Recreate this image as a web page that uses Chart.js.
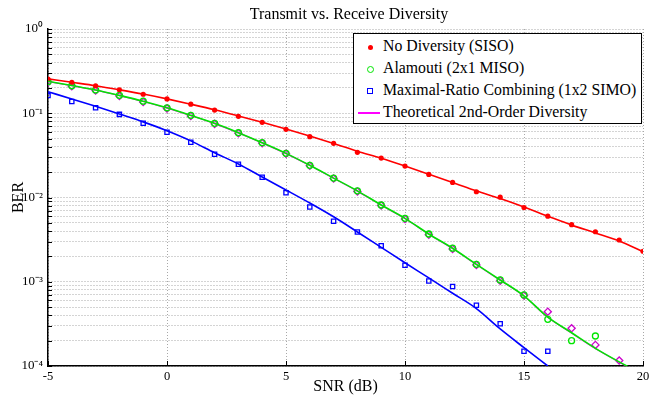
<!DOCTYPE html>
<html>
<head>
<meta charset="utf-8">
<script src="https://cdn.jsdelivr.net/npm/chart.js@4/dist/chart.umd.min.js"></script>
<style>
  body { margin: 0; background: #fff; }
  #wrap { position: relative; width: 665px; height: 396px; }
  #title {
    position: absolute; left: 149px; top: 5px; width: 400px; text-align: center;
    font-family: 'Liberation Serif', serif; font-size: 16px; line-height: 18px; color: #000;
  }
  #legend {
    position: absolute; left: 353px; top: 33px; width: 287px; height: 89px;
    border: 1.5px solid #000; background: #fff;
    font-family: 'Liberation Serif', serif; font-size: 15.8px; color: #000;
  }
  #legend .txt { position: absolute; left: 29px; line-height: 18px; white-space: nowrap; }
  #legend .mk { position: absolute; box-sizing: border-box; }
</style>
</head>
<body>
<div id="wrap">
  <canvas id="berChart" width="665" height="396"></canvas>
  <div id="title">Transmit vs. Receive Diversity</div>
  <div id="legend">
    <div class="mk" style="left:14px;top:11px;width:5px;height:5px;border-radius:50%;background:#ff0000"></div>
    <div class="txt" style="top:3px">No Diversity (SISO)</div>
    <div class="mk" style="left:13px;top:32px;width:7px;height:7px;border-radius:50%;border:1.2px solid #00e600"></div>
    <div class="txt" style="top:25px">Alamouti (2x1 MISO)</div>
    <div class="mk" style="left:13px;top:54px;width:6px;height:6px;border:1.2px solid #0000ff"></div>
    <div class="txt" style="top:47px">Maximal-Ratio Combining (1x2 SIMO)</div>
    <div class="mk" style="left:4px;top:78px;width:22px;height:1.5px;background:#ff00ff"></div>
    <div class="txt" style="top:69px">Theoretical 2nd-Order Diversity</div>
  </div>
</div>
<script>
// SNR axis (dB)
const snr = [-5, -4, -3, -2, -1, 0, 1, 2, 3, 4, 5, 6, 7, 8, 9, 10, 11, 12, 13, 14, 15, 16, 17, 18, 19, 20];

// simulated BER points
const berSISO = [0.255, 0.233, 0.212, 0.19, 0.168, 0.148, 0.128, 0.109, 0.092, 0.078, 0.0645, 0.0527, 0.044,
  0.0344, 0.0294, 0.0236, 0.0188, 0.0151, 0.0117, 0.0101, 0.0076, 0.006, 0.00476, 0.00392, 0.00313, 0.0023];
const berAlamouti = [0.237, 0.212, 0.189, 0.163, 0.139, 0.116, 0.0944, 0.0759, 0.0588, 0.0447, 0.0334, 0.0241, 0.017,
  0.012, 0.00815, 0.00566, 0.00369, 0.0025, 0.00161, 0.00105, 0.000697, 0.000358, 0.0002, 0.000227, null, null];
const berMRC = [0.162, 0.138, 0.116, 0.097, 0.0759, 0.0594, 0.0452, 0.0326, 0.0248, 0.0174, 0.0114, 0.0077, 0.00522,
  0.0039, 0.00268, 0.00157, 0.00102, 0.00088, 0.000525, 0.000318, 0.00015, 0.00015, null, null, null, null];
const berTheory = [0.233, 0.209, 0.186, 0.16, 0.136, 0.114, 0.093, 0.0748, 0.058, 0.0442, 0.033, 0.0238, 0.0168,
  0.0118, 0.00805, 0.00556, 0.00362, 0.00245, 0.00158, 0.00103, 0.000688, 0.000441, 0.00028, 0.000178, 0.000116, null];

// fitted curves
const fitSISO = [0.256, 0.233, 0.212, 0.19, 0.169, 0.148, 0.128, 0.11, 0.093, 0.078, 0.065, 0.0535, 0.0438,
  0.0354, 0.0292, 0.0236, 0.0189, 0.0151, 0.012, 0.0097, 0.0077, 0.006, 0.0047, 0.0038, 0.00305, 0.00228];
const fitAlamouti = [0.24, 0.213, 0.189, 0.163, 0.139, 0.116, 0.0944, 0.0759, 0.0588, 0.0447, 0.0334, 0.0241, 0.017,
  0.012, 0.00815, 0.00566, 0.00369, 0.0025, 0.00161, 0.00105, 0.00068, 0.00038, 0.000248, 0.000162, 0.000112, 0.000079];
const fitMRC = [0.18, 0.148, 0.121, 0.098, 0.079, 0.062, 0.047, 0.034, 0.025, 0.0175, 0.0123, 0.0086, 0.0059,
  0.0039, 0.00256, 0.00168, 0.00111, 0.00073, 0.00048, 0.000275, 0.000165, 0.0001, null, null, null, null];
const fitTheory = [0.238, 0.212, 0.188, 0.162, 0.138, 0.115, 0.0938, 0.0754, 0.0584, 0.0444, 0.0332, 0.024, 0.0169,
  0.0119, 0.0081, 0.00562, 0.00366, 0.00248, 0.0016, 0.00104, 0.000675, 0.000378, 0.000246, 0.000161, 0.000111, 0.000078];

// axis ticks
const xTicks = [-5, 0, 5, 10, 15, 20];
const decades = [1e-4, 1e-3, 1e-2, 1e-1, 1];
const supers = { '-': '\u207B', '0': '\u2070', '1': '\u00B9', '2': '\u00B2', '3': '\u00B3', '4': '\u2074' };

const pts = arr => snr.map((x, i) => ({ x: x, y: arr[i] })).filter(p => p.y !== null);

const serif = "'Liberation Serif', serif";

function curve(arr, color, w) {
  return { data: pts(arr), borderColor: color, borderWidth: w, pointRadius: 0,
    cubicInterpolationMode: 'monotone', fill: false };
}
function marks(arr, color, style, r, filled) {
  return { data: pts(arr), showLine: false, pointStyle: style, pointRadius: r,
    pointBorderColor: color, pointBackgroundColor: filled ? color : 'rgba(0,0,0,0)',
    pointBorderWidth: filled ? 0 : 1.3 };
}

// MATLAB-like inward tick marks
const inwardTicks = {
  id: 'inwardTicks',
  afterDatasetsDraw(chart) {
    const { ctx, chartArea: a, scales: { x, y } } = chart;
    ctx.save();
    ctx.strokeStyle = '#000';
    ctx.lineWidth = 1;
    ctx.beginPath();
    y.ticks.forEach(t => {
      const py = Math.round(y.getPixelForValue(t.value)) + 0.5;
      ctx.moveTo(a.left, py); ctx.lineTo(a.left + 4, py);
    });
    xTicks.forEach(v => {
      const px = Math.round(x.getPixelForValue(v)) + 0.5;
      ctx.moveTo(px, a.bottom); ctx.lineTo(px, a.bottom - 5);
    });
    ctx.stroke();
    ctx.restore();
  }
};

new Chart(document.getElementById('berChart'), {
  type: 'line',
  data: {
    datasets: [
      curve(fitAlamouti, '#00e600', 1.6),
      curve(fitMRC, '#0000ff', 1.6),
      curve(fitSISO, '#ff0000', 1.6),
      curve(fitTheory, '#ff00ff', 1.2),
      marks(berSISO, '#ff0000', 'circle', 2.6, true),
      marks(berAlamouti, '#00e600', 'circle', 3, false),
      marks(berMRC, '#0000ff', 'rect', 3, false),
      marks(berTheory, '#cc00cc', 'rectRot', 3.6, false)
    ]
  },
  options: {
    responsive: false,
    animation: false,
    layout: { padding: { left: 0, right: 22, top: 29, bottom: 0 } },
    plugins: {
      legend: { display: false },
      tooltip: { enabled: false },
      title: { display: false }
    },
    scales: {
      x: {
        type: 'linear',
        min: -5, max: 20,
        afterFit: s => { s.height = 30; },
        afterBuildTicks: s => { s.ticks = xTicks.map(v => ({ value: v })); },
        ticks: { color: '#000', padding: 3, font: { family: serif, size: 12.5 } },
        grid: { color: '#a8a8a8', drawTicks: false },
        border: { display: true, color: '#000', width: 1.5, dash: [1, 2] },
        title: { display: true, text: 'SNR (dB)', color: '#000', padding: 0,
          font: { family: serif, size: 16 } }
      },
      y: {
        type: 'logarithmic',
        min: 1e-4, max: 1,
        afterFit: s => { s.width = 48; },
        afterBuildTicks: s => {
          const t = [];
          decades.forEach(d => {
            for (let k = 1; k <= 9; k++) {
              if (d * k <= 1.0000001) t.push({ value: d * k });
              if (d === 1) break;
            }
          });
          s.ticks = t;
        },
        ticks: {
          color: '#000', padding: 5, autoSkip: false,
          font: { family: serif, size: 13 },
          callback: v => {
            const e = Math.log10(v);
            if (Math.abs(e - Math.round(e)) > 1e-6) return '';
            return '10' + String(Math.round(e)).split('').map(c => supers[c]).join('');
          }
        },
        grid: { color: '#a8a8a8', drawTicks: false },
        border: { display: true, color: '#000', width: 1.5, dash: [1, 2] },
        title: { display: true, text: 'BER', color: '#000', padding: { top: 9, bottom: 0 },
          font: { family: serif, size: 16 } }
      }
    }
  },
  plugins: [inwardTicks]
});
</script>
</body>
</html>
